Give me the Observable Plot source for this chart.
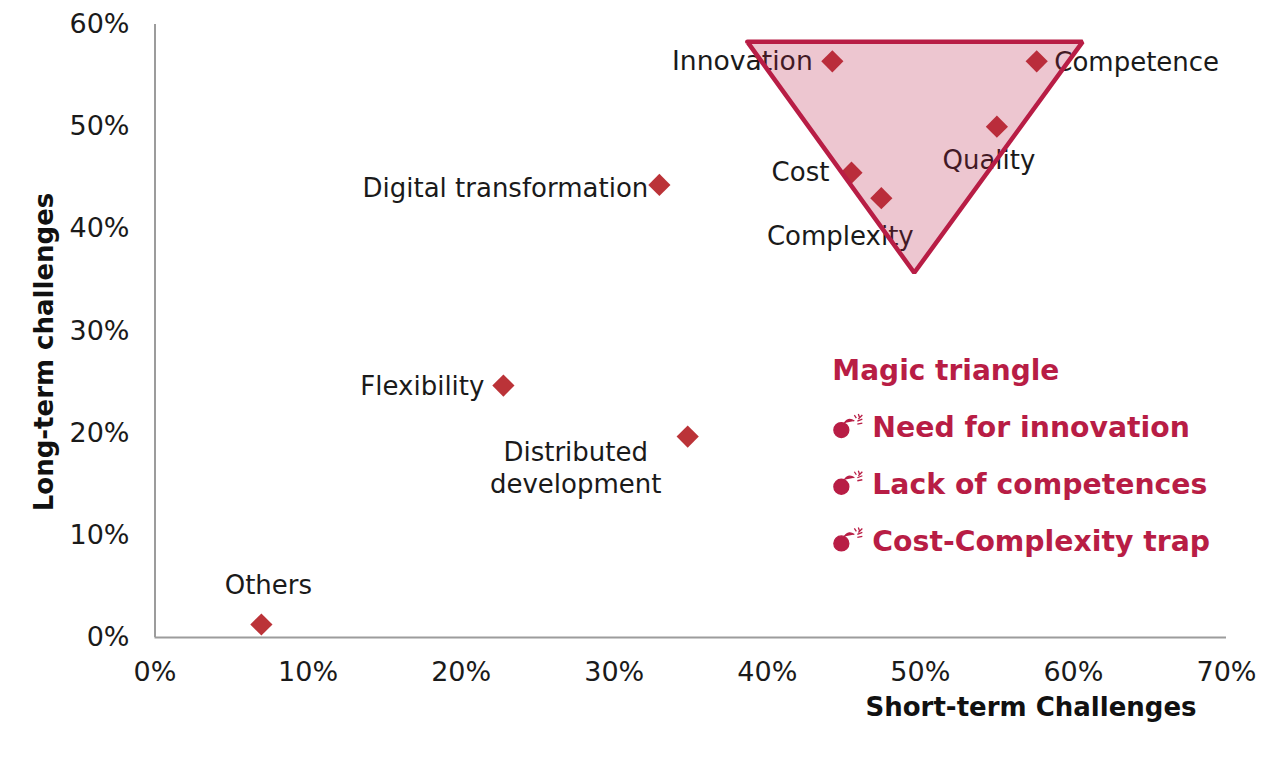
<!DOCTYPE html>
<html>
<head>
<meta charset="utf-8">
<script src="https://cdn.jsdelivr.net/npm/d3@7"></script>
<script src="https://cdn.jsdelivr.net/npm/@observablehq/plot@0.6"></script>
<style>
html,body{margin:0;padding:0;background:#fff}
svg{display:block}
</style>
</head>
<body>
<div id="chart"></div>
<script>
const names = ["Innovation","Competence","Quality","Cost","Complexity","Digital transformation","Flexibility","Distributed\ndevelopment","Others"];
const shortTerm = [44.25,57.6,55.0,45.5,47.45,32.95,22.76,34.8,6.95];
const longTerm = [56.4,56.4,50.0,45.5,43.0,44.3,24.66,19.67,1.27];
const triangleX = [38.7,60.6,49.6];
const triangleY = [58.3,58.3,35.7];
const xTicks = [0,10,20,30,40,50,60,70];
const yTicks = [0,10,20,30,40,50,60];
const noteTitle = "Magic triangle";
const noteItems = ["Need for innovation","Lack of competences","Cost-Complexity trap"];
const noteX = 44.25;
const noteTitleY = 26.1;
const noteItemY = [20.5,14.95,9.4];

const points = names.map((name,i)=>({name,x:shortTerm[i],y:longTerm[i]}));
const triangle = triangleX.map((x,i)=>({x,y:triangleY[i]}));

const RED = "#b81d45", DIAMOND = "#bb3338", AXIS = "#9c9c9c", FONT = "'DejaVu Sans', sans-serif";

// bomb glyph for the note bullets
const bomb = {draw(c){
  c.moveTo(7.5,4); c.arc(0,4,7.5,0,2*Math.PI);
  c.moveTo(3,-3); c.quadraticCurveTo(7,-9,13,-5);
  for (const [a,b,e,f] of [[13,-11,15,-8],[17,-12,18,-9],[21,-11,17,-7],[16,-5,21,-7],[16,-2,21,-3]]) {
    c.moveTo(a,b); c.lineTo(e,f);
  }
}};

const label = (name,dx,dy,opts={}) => Plot.text(points.filter(d=>d.name===name),{
  x:"x",y:"y",text:"name",dx,dy,fontSize:26,fill:"#1a1a1a",lineHeight:1.23,textAnchor:"middle",...opts
});

const chart = Plot.plot({
  width:1280,height:758,
  marginLeft:154.5,marginRight:54,marginTop:24,marginBottom:121,
  style:{fontFamily:FONT,background:"#fff"},
  x:{domain:[0,70]},
  y:{domain:[0,60]},
  marks:[
    Plot.axisX({ticks:xTicks,tickSize:0,tickPadding:24,fontSize:27,tickFormat:d=>d+"%",label:null,fill:"#1a1a1a"}),
    Plot.axisY({ticks:yTicks,tickSize:0,tickPadding:25.5,fontSize:27,tickFormat:d=>d+"%",label:null,fill:"#1a1a1a"}),
    Plot.ruleX([0],{stroke:AXIS,strokeWidth:2}),
    Plot.ruleY([0],{stroke:AXIS,strokeWidth:2}),
    label("Innovation",-90,-2,{fontSize:26.6}),
    label("Competence",100,-1),
    label("Quality",-8,32),
    label("Cost",-51,-2),
    label("Complexity",-41,37),
    label("Digital transformation",-154,2),
    label("Flexibility",-81,-1),
    label("Distributed\ndevelopment",-112,30),
    label("Others",7,-41),
    Plot.dot(points,{x:"x",y:"y",symbol:"diamond2",r:10,fill:DIAMOND,stroke:null}),
    Plot.line([...triangle,triangle[0]],{x:"x",y:"y",stroke:RED,strokeWidth:4.5,strokeLinejoin:"miter",fill:RED,fillOpacity:0.25}),
    Plot.text([noteTitle],{x:[noteX],y:[noteTitleY],text:d=>d,textAnchor:"start",fontSize:28,fontWeight:"bold",fill:RED}),
    Plot.dot(noteItems,{x:noteItems.map(()=>noteX),y:noteItemY,symbol:bomb,r:1,dx:9,dy:-2,fill:RED,stroke:RED,strokeWidth:1.3}),
    Plot.text(noteItems,{x:noteItems.map(()=>noteX),y:noteItemY,text:d=>d,dx:40,textAnchor:"start",fontSize:28.3,fontWeight:"bold",fill:RED}),
    Plot.text(["Short-term Challenges"],{frameAnchor:"bottom-right",dx:-30,dy:78,text:d=>d,fontSize:26,fontWeight:"bold",fill:"#111"}),
    Plot.text(["Long-term challenges"],{frameAnchor:"left",dx:-110,dy:21,rotate:-90,text:d=>d,fontSize:26,fontWeight:"bold",fill:"#111",textAnchor:"middle"})
  ]
});
document.getElementById("chart").append(chart);
</script>
</body>
</html>
